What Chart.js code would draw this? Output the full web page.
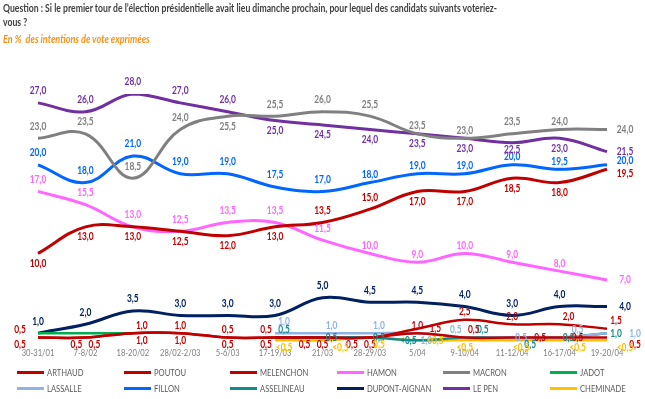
<!DOCTYPE html>
<html>
<head>
<meta charset="utf-8">
<script src="https://cdn.jsdelivr.net/npm/chart.js@4.4.1/dist/chart.umd.min.js"></script>
<style>
  body { margin: 0; background: #fff; font-family: Lato, sans-serif; }
  #wrap { position: relative; width: 645px; height: 399px; overflow: hidden; }
  canvas { position: absolute; left: 0; top: 0; }
  .head { position: absolute; left: 3px; white-space: nowrap; transform-origin: 0 0; font-weight: bold; }
  #title { top: 1px; font-size: 12px; line-height: 14px; color: #404040; }
  #sub { top: 31px; font-size: 12px; font-style: italic; color: #F7941D; }
  #legend { position: absolute; left: 17px; top: 364px; display: grid; grid-template-columns: repeat(6, 106.6px); }
  .item { display: flex; align-items: center; height: 16px; font-size: 9.5px; color: #595959; }
  .swatch { width: 27px; height: 3px; margin-right: 3px; flex: none; }
  .item span { display: inline-block; transform: scaleX(0.8); transform-origin: 0 50%; white-space: nowrap; }
</style>
</head>
<body>
<div id="wrap">
  <canvas id="chart" width="645" height="399"></canvas>
  <div id="title" class="head"><span id="t1">Question : Si le premier tour de l’élection présidentielle avait lieu dimanche prochain, pour lequel des candidats suivants voteriez-</span><br>vous ?</div>
  <div id="sub" class="head">En %&nbsp; des intentions de vote exprimées</div>
  <div id="legend"></div>
</div>
<script>
const categories = ['30-31/01', '7-8/02', '18-20/02', '28/02-2/03', '5-6/03', '17-19/03', '21/03',
  '28-29/03', '5/04', '9-10/04', '11-12/04', '16-17/04', '19-20/04'];

// "<0,5" in the source; drawn just above zero
const LT = 0.2;

const arthaud    = [0.5, 0.5, 1.0, 1.0, 0.5, 0.5, 0.5, 0.5, 1.0, 0.5, 0.5, 0.5, 0.5];
const poutou     = [0.5, 0.5, 1.0, 1.0, 0.5, 0.5, 0.5, 0.5, 1.5, 2.5, 2.0, 2.0, 1.5];
const melenchon  = [10.0, 13.0, 13.0, 12.5, 12.0, 13.0, 13.5, 15.0, 17.0, 17.0, 18.5, 18.0, 19.5];
const hamon      = [17.0, 15.5, 13.0, 12.5, 13.5, 13.5, 11.5, 10.0, 9.0, 10.0, 9.0, 8.0, 7.0];
const macron     = [23.0, 23.5, 18.5, 24.0, 25.5, 25.5, 26.0, 25.5, 23.5, 23.0, 23.5, 24.0, 24.0];
const jadot      = [1.0, 1.0, 1.0, null, null, null, null, null, null, null, null, null, null];
const lassalle   = [null, null, null, null, null, 1.0, 1.0, 1.0, 1.0, 0.5, 0.5, 0.5, 1.0];
const fillon     = [20.0, 18.0, 21.0, 19.0, 19.0, 17.5, 17.0, 18.0, 19.0, 19.0, 20.0, 19.5, 20.0];
const asselineau = [null, null, null, null, null, 0.5, 0.5, 0.5, LT, 0.5, 0.5, 0.5, 1.0];
const dupont     = [1.0, 2.0, 3.5, 3.0, 3.0, 3.0, 5.0, 4.5, 4.5, 4.0, 3.0, 4.0, 4.0];
const lepen      = [27.0, 26.0, 28.0, 27.0, 26.0, 25.0, 24.5, 24.0, 23.5, 23.0, 22.5, 23.0, 21.5];
const cheminade  = [null, null, null, null, null, LT, LT, 0.5, LT, LT, LT, LT, LT];

// label spot codes: a/b above/below, u/d and U/D smaller nudges, l/L r/R x left/right shifts
const DX = { l: -18, L: -9, R: 9, r: 18, x: 28 };
const DY = { a: -12, b: 10, u: -8, d: 7, U: -4, D: 4 };

function series(label, data, color, spots, width, labelColor) {
  return {
    label, data,
    borderColor: color,
    backgroundColor: color,
    labelColor: labelColor || color,
    spots: spots.split(' '),
    borderWidth: width,
    pointRadius: 0,
    tension: 0.4,
    fill: false
  };
}

const datasets = [
  series('ARTHAUD', arthaud, '#C00000', 'ld dR dR d d dL d d u uR x r xd', 2.5),
  series('POUTOU', poutou, '#C00000', 'lu dL uR u u uL dl dl r u u uR Ru', 2.5),
  series('MELENCHON', melenchon, '#C00000', 'b b b b b b a a b b b b rD', 3),
  series('HAMON', hamon, '#FF66FF', 'a a a a a a a u u u u u r', 3),
  series('MACRON', macron, '#808080', 'a a a a b a a a u u a u r', 3, '#7F7F7F'),
  series('JADOT', jadot, '#00B050', '', 2.5),
  series('LASSALLE', lassalle, '#8EB4E3', '- - - - - aR uR uR dR uL R ru x', 2.5),
  series('FILLON', fillon, '#0066FF', 'a a a a a a a u u u u u rU', 3),
  series('ASSELINEAU', asselineau, '#118A8A', '- - - - - uR R R L ur rd R R', 2.5),
  series('DUPONT-AIGNAN', dupont, '#002060', 'a a a a a a a a a a a a r', 3),
  series('LE PEN', lepen, '#7030A0', 'a a a a a b b b b b d b r', 3),
  series('CHEMINADE', cheminade, '#FFC000', '- - - - - Rd rd Rd r d Rd rd rd', 2.5)
];

const valueLabels = {
  id: 'valueLabels',
  afterDatasetsDraw(chart) {
    const ctx = chart.ctx;
    ctx.save();
    ctx.textAlign = 'center';
    ctx.textBaseline = 'middle';

    // category labels under the plot
    const xs = chart.scales.x;
    ctx.font = '10px Lato';
    ctx.fillStyle = '#7F7F7F';
    categories.forEach((c, i) => {
      ctx.save();
      ctx.translate(xs.getPixelForValue(i), chart.chartArea.bottom + 11);
      ctx.scale(0.76, 1);
      ctx.fillText(c, 0, 0);
      ctx.restore();
    });

    ctx.font = 'bold 10.5px Lato';
    chart.data.datasets.forEach((ds, i) => {
      const meta = chart.getDatasetMeta(i);
      meta.data.forEach((pt, j) => {
        const v = ds.data[j];
        const code = ds.spots[j];
        if (v == null || !code || code === '-') return;
        let dx = 0, dy = 0;
        for (const c of code) { dx += DX[c] || 0; dy += DY[c] || 0; }
        const text = v < 0.5 ? '<0,5' : v.toFixed(1).replace('.', ',');
        ctx.fillStyle = ds.labelColor;
        ctx.save();
        ctx.translate(pt.x + dx, pt.y + dy);
        ctx.scale(0.8, 1);
        ctx.fillText(text, 0, 0);
        ctx.restore();
      });
    });
    ctx.restore();
  }
};

new Chart(document.getElementById('chart'), {
  type: 'line',
  data: { labels: categories, datasets },
  options: {
    responsive: false,
    animation: false,
    layout: { padding: { left: 38, right: 38, top: 94, bottom: 57 } },
    scales: {
      x: { display: false },
      y: { display: false, min: 0, max: 28 }
    },
    plugins: {
      legend: { display: false },
      tooltip: { enabled: false }
    }
  },
  plugins: [valueLabels]
});

// legend laid out as a 6-column grid like the source
const legend = document.getElementById('legend');
datasets.forEach(ds => {
  const item = document.createElement('div');
  item.className = 'item';
  item.innerHTML = '<div class="swatch" style="background:' + ds.borderColor + '"></div><span>' + ds.label + '</span>';
  legend.appendChild(item);
});

// squeeze heading text to the source widths
const t1 = document.getElementById('t1');
const title = document.getElementById('title');
title.style.transform = 'scaleX(' + (494 / t1.offsetWidth) + ')';
const sub = document.getElementById('sub');
sub.style.transform = 'scaleX(' + (147 / sub.offsetWidth) + ')';
</script>
</body>
</html>
